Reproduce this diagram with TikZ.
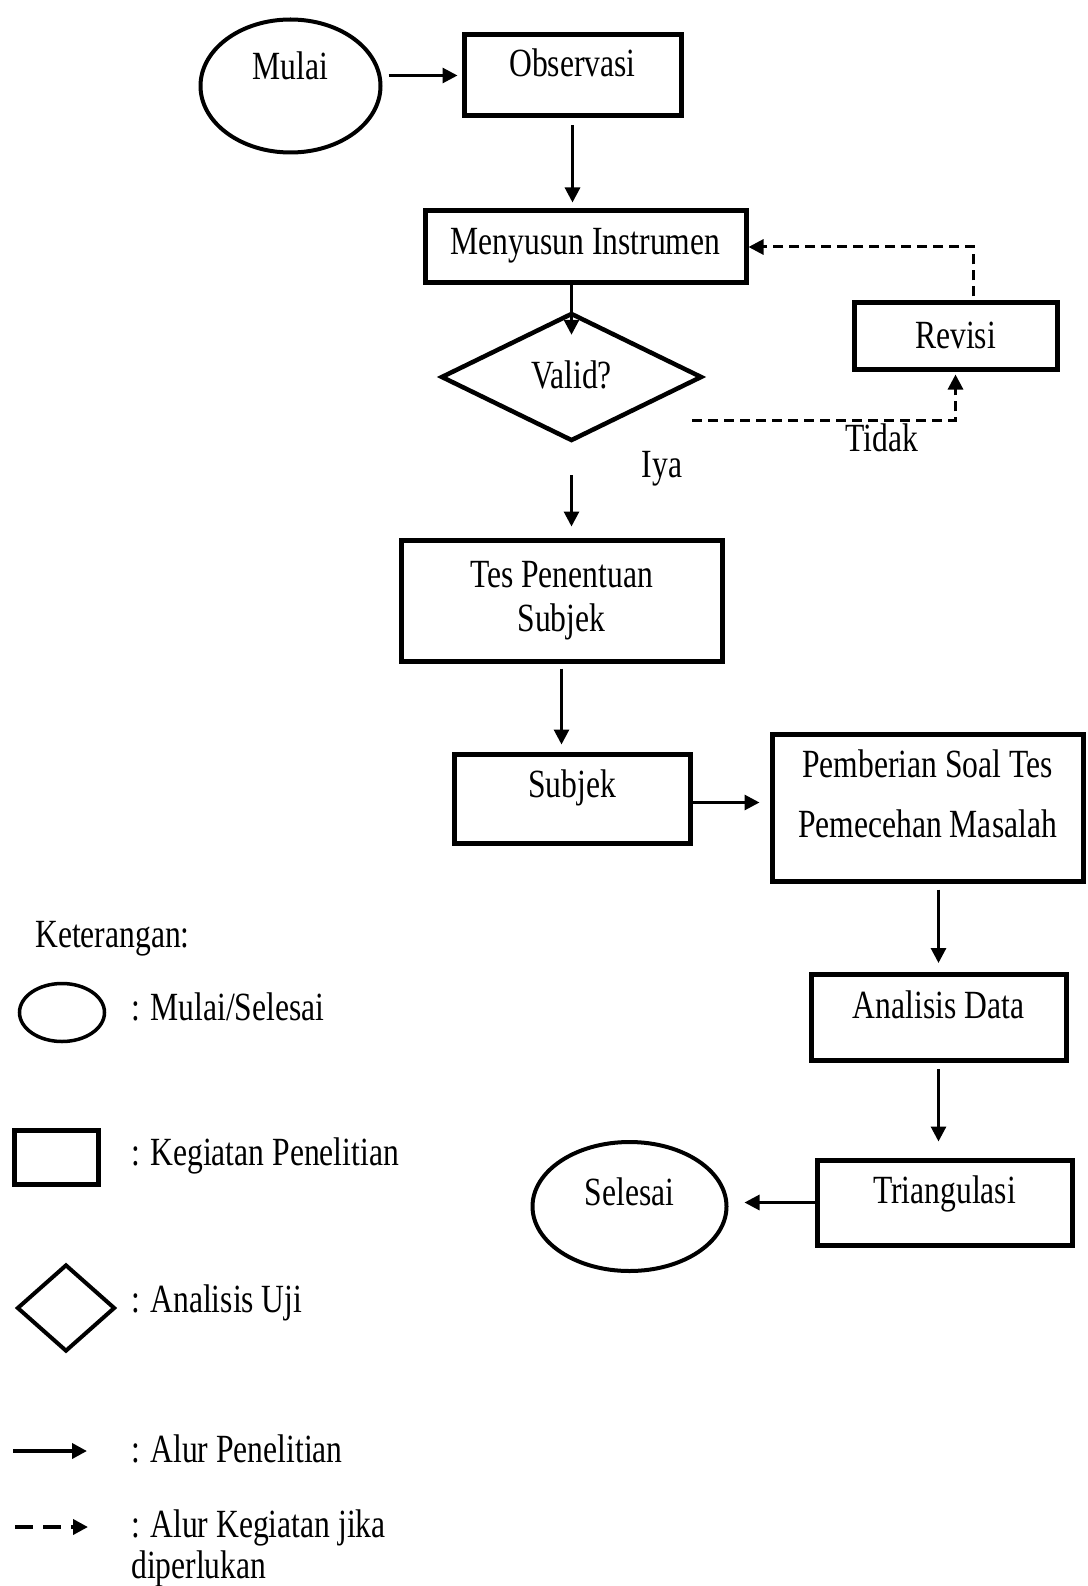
\documentclass[tikz,border=0pt]{standalone}
\usepackage{fontspec}
\setmainfont{Liberation Serif}[FakeStretch=0.79]
\usetikzlibrary{arrows.meta,positioning,shapes.geometric}

\begin{document}
\begin{tikzpicture}[x=1pt,y=-1pt,>={Triangle[length=15pt,width=15pt]},
  every node/.style={font=\fontsize{40}{48}\selectfont,inner sep=0pt},
  box/.style={draw,line width=5pt},
  oval/.style={draw,ellipse,line width=4pt},
  cek/.style={draw,diamond,line width=4.5pt},
  teks/.style={text height=28pt,text depth=#1},
  alur/.style={->,line width=3pt},
  alurputus/.style={->,line width=3pt,dash pattern=on 10pt off 6pt}]
\useasboundingbox (0,0) rectangle (1087,1586);
% alur penelitian
\node[oval,teks=40pt,minimum width=180pt,minimum height=133pt] (mulai) at (290.5,86) {Mulai};
\node[box,teks=25pt,minimum width=217pt,minimum height=81pt] (obs) at (572.5,75.5) {Observasi};
\node[box,teks=12pt,minimum width=321pt,minimum height=72pt] (susun) at (585.5,247) {Menyusun Instrumen};
\node[cek,teks=6pt,minimum width=261pt,minimum height=128pt] (valid) at (571.5,377) {Valid?};
\node[box,teks=4pt,minimum width=203pt,minimum height=66pt] (revisi) at (955.5,336) {Revisi};
\node[box,align=center,minimum width=321pt,minimum height=121pt] (tes) at (561.5,600.5) {Tes Penentuan\\[-4pt]Subjek};
\node[box,teks=31pt,minimum width=236pt,minimum height=89pt] (subjek) at (572,798.5) {Subjek};
\node[box,align=center,text depth=28pt,minimum width=311pt,minimum height=147pt] (beri) at (927.5,807.5) {Pemberian Soal Tes\\[12pt]Pemecehan Masalah};
\node[box,teks=27pt,minimum width=255pt,minimum height=86pt] (analisis) at (938.5,1017.5) {Analisis Data};
\node[box,teks=27pt,minimum width=255pt,minimum height=85pt] (triang) at (944.5,1202.5) {Triangulasi};
\node[oval,teks=31pt,minimum width=194pt,minimum height=129pt] (selesai) at (629.5,1206.5) {Selesai};
\node[anchor=base] (iya) at (662,477) {Iya};
\node[anchor=base] (tidak) at (882,451) {Tidak};
\draw[alur,shorten <=6pt,shorten >=4pt] (mulai.east |- obs.west) -- (obs.west);
\draw[alur,shorten <=7pt,shorten >=6pt] (obs.south) -- (obs.south |- susun.north);
\draw[alur] (susun.south -| valid.north) -- ([yshift=-24pt]valid.north);
\draw[alurputus,shorten >=3pt] ([shift={(-12,43)}]valid.east) -| (revisi.south);
\draw[alurputus] ([xshift=18pt,yshift=4pt]revisi.north) |- (susun.east);
\draw[alur,shorten >=11pt] ([yshift=-32pt]valid.south) -- (valid.south |- tes.north);
\draw[alur,shorten <=5pt,shorten >=7pt] (tes.south) -- (tes.south |- subjek.north);
\draw[alur,shorten >=10pt] ([yshift=-4pt]subjek.east) -- ([yshift=-4pt]subjek.east -| beri.west);
\draw[alur,shorten <=6pt,shorten >=9pt] (analisis.north |- beri.south) -- (analisis.north);
\draw[alur,shorten <=6pt,shorten >=16pt] (analisis.south) -- (analisis.south |- triang.north);
\draw[alur,shorten >=16pt] (triang.west) -- (triang.west -| selesai.east);
% keterangan
\node[anchor=base west] (ket) at (35,947) {Keterangan:};
\node[oval,line width=3.5pt,minimum width=85pt,minimum height=58pt] (lgoval) at (62,1012.5) {};
\node[anchor=base west] (lgovalteks) at (131,1020) {: Mulai/Selesai};
\node[box,minimum width=84pt,minimum height=54pt] (lgbox) at (56,1157) {};
\node[anchor=base west] (lgboxteks) at (131,1165) {: Kegiatan Penelitian};
\node[cek,line width=4pt,minimum width=98pt,minimum height=87pt] (lgcek) at (66,1308) {};
\node[anchor=base west] (lgcekteks) at (131,1312) {: Analisis Uji};
\coordinate (lgalur1) at (13,1451);
\coordinate (lgalur2) at (87,1451);
\draw[alur,line width=4pt] (lgalur1) -- (lgalur2);
\node[anchor=base west] (lgalurteks) at (131,1462) {: Alur Penelitian};
\coordinate (lgputus1) at (15,1527);
\coordinate (lgputus2) at (88,1527);
\draw[alurputus,line width=4.5pt,dash pattern=on 18pt off 10pt] (lgputus1) -- (lgputus2);
\node[anchor=north west,align=left] (lgputusteks) at (131,1510) {: Alur Kegiatan jika\\[-7pt]diperlukan};
\end{tikzpicture}
\end{document}
